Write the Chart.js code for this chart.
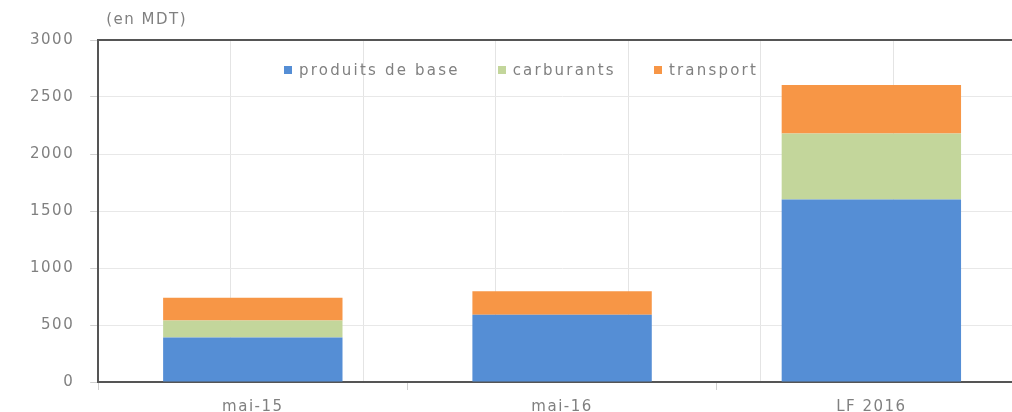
<!DOCTYPE html>
<html>
<head>
<meta charset="utf-8">
<script src="https://cdn.jsdelivr.net/npm/chart.js@4"></script>
<style>
  html, body { margin: 0; padding: 0; background: #fff; overflow: hidden; }
  #wrap { position: relative; width: 1026px; height: 424px; }
  #legend {
    position: absolute; left: 284px; top: 61px;
    display: flex; gap: 38px;
    font: 15px "DejaVu Sans", sans-serif; color: #808080; letter-spacing: 2.2px;
  }
  #legend span { display: flex; align-items: center; }
  #legend i { display: inline-block; width: 8px; height: 8px; margin-right: 7px; }
</style>
</head>
<body>
<div id="wrap">
  <canvas id="subsidyChart"></canvas>
  <div id="legend"></div>
</div>
<script>
const categories = ["mai-15", "mai-16", "LF 2016"];
const produitsDeBase = [390, 590, 1600];
const carburants = [150, 0, 580];
const transport = [200, 205, 425];
const yTicks = [0, 500, 1000, 1500, 2000, 2500, 3000];
const unitLabel = "(en MDT)";

const textGray = "#808080";
const font = { family: "DejaVu Sans", size: 15 };

// the original uses a very wide typeface, so space the letters out a little
const spacingPlugin = {
  id: "letterSpacing",
  beforeUpdate(chart) { chart.ctx.letterSpacing = "1.5px"; },
  beforeDraw(chart) { chart.ctx.letterSpacing = "1.5px"; },
};

// unit label sits just above the plot frame
const unitPlugin = {
  id: "unitLabel",
  afterDraw(chart) {
    const { ctx, chartArea } = chart;
    ctx.save();
    ctx.font = "15px 'DejaVu Sans'";
    ctx.fillStyle = textGray;
    ctx.textBaseline = "middle";
    ctx.fillText(unitLabel, chartArea.left + 8, chartArea.top - 20);
    ctx.restore();
  }
};

document.addEventListener("DOMContentLoaded", () => {
  const ctx = document.getElementById("subsidyChart").getContext("2d");
  const chart = new Chart(ctx, {
    type: "bar",
    data: {
      labels: categories,
      datasets: [
        { label: "produits de base", data: produitsDeBase, backgroundColor: "#558ed5" },
        { label: "carburants", data: carburants, backgroundColor: "#c3d69b" },
        { label: "transport", data: transport, backgroundColor: "#f79646" },
      ],
    },
    options: {
      responsive: true,
      maintainAspectRatio: false,
      animation: false,
      datasets: { bar: { barPercentage: 1, categoryPercentage: 0.58 } },
      layout: { padding: { top: 40, left: 14, right: 0, bottom: 0 } },
      plugins: {
        legend: { display: false },
        tooltip: { enabled: false },
      },
      scales: {
        x: {
          stacked: true,
          offset: true,
          grid: { display: true, drawOnChartArea: false, offset: true, tickLength: 8, color: "#d0d0d0" },
          border: { color: "#555", width: 2 },
          ticks: { color: textGray, font, padding: 8 },
        },
        xTop: {
          type: "linear",
          position: "top",
          min: -0.5,
          max: 2.5,
          grid: { color: "#e4e4e4", drawTicks: false },
          border: { color: "#555", width: 2 },
          ticks: { display: false, stepSize: 0.5 },
        },
        y: {
          stacked: true,
          min: 0,
          max: 3000,
          afterBuildTicks(axis) { axis.ticks = yTicks.map(v => ({ value: v })); },
          grid: { color: "#e8e8e8", tickLength: 8, tickColor: "#d0d0d0" },
          border: { color: "#555", width: 2 },
          ticks: { color: textGray, font, padding: 16, callback: v => String(v) },
        },
      },
    },
    plugins: [spacingPlugin, unitPlugin],
  });

  // html legend inside the plot, built from the datasets
  const legend = document.getElementById("legend");
  chart.data.datasets.forEach(ds => {
    const item = document.createElement("span");
    const box = document.createElement("i");
    box.style.background = ds.backgroundColor;
    item.appendChild(box);
    item.appendChild(document.createTextNode(ds.label));
    legend.appendChild(item);
  });
});
</script>
</body>
</html>
